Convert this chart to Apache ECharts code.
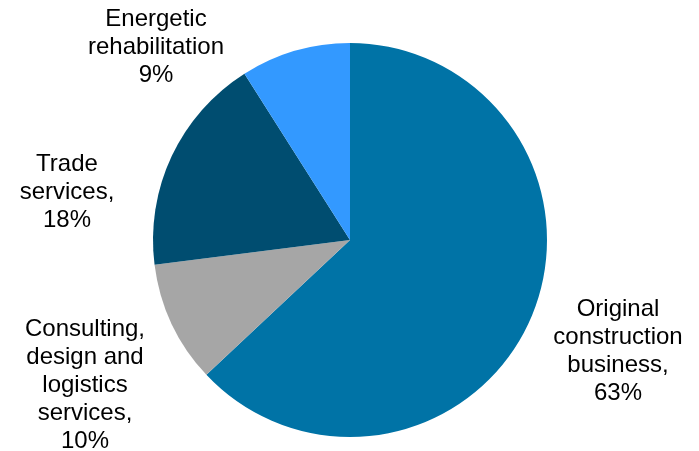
<!DOCTYPE html>
<html>
<head>
<meta charset="utf-8">
<script src="https://cdn.jsdelivr.net/npm/echarts@6/dist/echarts.min.js"></script>
<style>html,body{margin:0;padding:0;background:#fff}#c{width:699px;height:451px}</style>
</head>
<body>
<div id="c"></div>
<script>
var categories = ['Original construction business', 'Consulting, design and logistics services', 'Trade services', 'Energetic rehabilitation'];
var labelLines = ['Original\nconstruction\nbusiness,', 'Consulting,\ndesign and\nlogistics\nservices,', 'Trade\nservices,', 'Energetic\nrehabilitation'];
var values = [63, 10, 18, 9];
var colors = ['#0073A6', '#A6A6A6', '#004D70', '#3399FF'];
var labelPos = [[618, 351], [85, 385], [67, 192], [156, 47]];

var chart = echarts.init(document.getElementById('c'));
chart.setOption({
  animation: false,
  series: [{
    type: 'pie',
    center: [350, 240],
    radius: 197,
    startAngle: 90,
    clockwise: true,
    avoidLabelOverlap: false,
    data: categories.map(function (c, i) {
      return { name: c, value: values[i], itemStyle: { color: colors[i] } };
    }),
    label: {
      show: true,
      position: 'outside',
      formatter: function (p) { return labelLines[p.dataIndex] + '\n' + values[p.dataIndex] + '%'; },
      fontFamily: 'Liberation Sans',
      fontSize: 24,
      lineHeight: 28,
      color: '#000',
      align: 'center',
      overflow: 'none',
      width: 300
    },
    labelLine: { show: false },
    labelLayout: function (p) {
      var pos = labelPos[p.dataIndex];
      return { x: pos[0], y: pos[1], align: 'center', verticalAlign: 'middle' };
    },
    emphasis: { disabled: true }
  }]
});
</script>
</body>
</html>
